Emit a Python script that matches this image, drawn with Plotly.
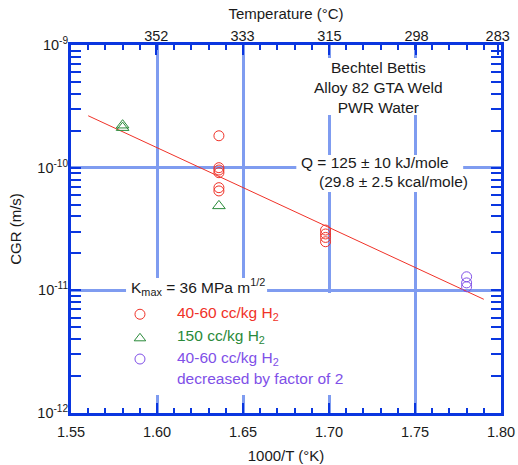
import numpy as np
import plotly.graph_objects as go

# ---------------- data ----------------
red_x = [1.636, 1.636, 1.636, 1.636, 1.636, 1.636, 1.698, 1.698, 1.698, 1.698]
red_y = [1.82e-10, 1.0e-10, 0.957e-10, 0.91e-10, 0.687e-10, 0.646e-10,
         3.1e-11, 2.88e-11, 2.7e-11, 2.49e-11]
green_x = [1.580, 1.580, 1.636]
green_y = [2.22e-10, 2.12e-10, 4.88e-11]
purple_x = [1.780, 1.780, 1.780]
purple_y = [1.29e-11, 1.15e-11, 1.07e-11]
fit_x = [1.560, 1.790]
fit_y = [2.65e-10, 8.45e-12]

x_ticks = [1.55, 1.60, 1.65, 1.70, 1.75, 1.80]
y_ticks = [1e-12, 1e-11, 1e-10, 1e-9]
y_ticklabels = ["10<sup>-12</sup>", "10<sup>-11</sup>", "10<sup>-10</sup>", "10<sup>-9</sup>"]
temps_c = [352, 333, 315, 298, 283]
temp_ticks = [1000.0 / (t + 273.15) for t in temps_c]

legend_labels = ["40-60 cc/kg H<sub>2</sub>", "150 cc/kg H<sub>2</sub>",
                 "40-60 cc/kg H<sub>2</sub>", "decreased by factor of 2"]

# ---------------- style ----------------
RED = "#f03228"
GREEN = "#2a8a3a"
PURPLE = "#8050e8"
AXIS = "#0a36e0"
GRID = "#7f9cf0"
FONT = "Liberation Sans, Arial, Helvetica, sans-serif"
TXT = "#1a1a1a"
AFS = 15.5  # annotation font size

fig = go.Figure()

fig.add_trace(go.Scatter(x=fit_x, y=fit_y, mode="lines",
                         line=dict(color=RED, width=1), showlegend=False))
fig.add_trace(go.Scatter(x=red_x, y=red_y, mode="markers",
                         marker=dict(symbol="circle-open", size=10, color=RED, line=dict(width=1)),
                         showlegend=False))
fig.add_trace(go.Scatter(x=green_x, y=green_y, mode="markers",
                         marker=dict(symbol="triangle-up-open", size=11, color=GREEN, line=dict(width=1)),
                         showlegend=False))
fig.add_trace(go.Scatter(x=purple_x, y=purple_y, mode="markers",
                         marker=dict(symbol="circle-open", size=10, color=PURPLE, line=dict(width=1)),
                         showlegend=False))

# legend key markers (placed in data space)
key_x = 1.5901
key_y = [10 ** -11.195, 10 ** -11.391, 10 ** -11.560]
key_sym = ["circle-open", "triangle-up-open", "circle-open"]
key_col = [RED, GREEN, PURPLE]
for yy, s, c in zip(key_y, key_sym, key_col):
    fig.add_trace(go.Scatter(x=[key_x], y=[yy], mode="markers",
                             marker=dict(symbol=s, size=10, color=c, line=dict(width=1)),
                             showlegend=False))

# invisible trace to anchor top axis
fig.add_trace(go.Scatter(x=[1.6], y=[1e-11], xaxis="x2", yaxis="y", mode="markers",
                         marker=dict(opacity=0), showlegend=False, hoverinfo="skip"))

# white boxes hiding grid lines behind text (drawn above grid; no data underneath)
def pb(py):
    return (413 - py) / 368.0

boxes = [
    (1.690, 1.770, 58, 115),
    (1.681, 1.778, 155, 192),
    (1.582, 1.664, 278, 297),
    (1.596, 1.730, 293, 395),
]
for x0, x1, py0, py1 in boxes:
    fig.add_shape(type="rect", xref="x", yref="paper", x0=x0, x1=x1,
                  y0=pb(py1), y1=pb(py0), fillcolor="white", line=dict(width=0),
                  layer="above")

ann = []
ann.append(dict(x=1.7285, y=-9.346, text="Bechtel Bettis<br>Alloy 82 GTA Weld<br>PWR Water",
                xanchor="center", yanchor="middle", font=dict(size=AFS, color=TXT)))
ann.append(dict(x=1.6826, y=-9.954, text="Q = 125 ± 10 kJ/mole",
                xanchor="left", yanchor="middle", font=dict(size=AFS, color=TXT)))
ann.append(dict(x=1.693, y=-10.109, text="(29.8 ± 2.5 kcal/mole)",
                xanchor="left", yanchor="middle", font=dict(size=AFS, color=TXT)))
ann.append(dict(x=1.5837, y=-10.973, text="K<sub>max</sub> = 36 MPa m<sup>1/2</sup>",
                xanchor="left", yanchor="middle", font=dict(size=AFS, color=TXT)))
leg_y = [-11.185, -11.380, -11.552, -11.715]
leg_c = [RED, GREEN, PURPLE, PURPLE]
for t, yy, c in zip(legend_labels, leg_y, leg_c):
    ann.append(dict(x=1.6105, y=yy, text=t, xanchor="left", yanchor="middle",
                    font=dict(size=AFS, color=c)))
for a in ann:
    a.update(xref="x", yref="y", showarrow=False)

fig.update_layout(
    width=518, height=465,
    margin=dict(l=71, r=17, t=45, b=52),
    paper_bgcolor="white", plot_bgcolor="white",
    font=dict(family=FONT, size=14, color=TXT),
    annotations=ann,
    xaxis=dict(
        range=[1.55, 1.80], tickmode="array", tickvals=x_ticks,
        ticktext=[f"{v:.2f}" for v in x_ticks], automargin=False,
        showgrid=True, gridcolor=GRID, gridwidth=3,
        showline=True, linecolor=AXIS, linewidth=3, mirror=True,
        ticks="inside", ticklen=10, tickwidth=2, tickcolor=AXIS,
        minor=dict(dtick=0.01, tick0=1.55, ticks="inside", ticklen=5, tickwidth=2,
                   tickcolor=AXIS, showgrid=False),
        zeroline=False, ticklabelstandoff=4,
        title=dict(text="1000/T (°K)", font=dict(size=15), standoff=12),
        tickfont=dict(size=14.5),
    ),
    xaxis2=dict(
        overlaying="x", side="top", range=[1.55, 1.80], automargin=False,
        tickmode="array", tickvals=temp_ticks, ticktext=[str(t) for t in temps_c],
        showgrid=False, showline=False, zeroline=False,
        ticks="inside", ticklen=10, tickwidth=2, tickcolor=AXIS,
        minor=dict(dtick=0.01, tick0=1.55, ticks="inside", ticklen=5, tickwidth=2,
                   tickcolor=AXIS, showgrid=False),
        title=dict(text="Temperature (°C)", font=dict(size=15), standoff=4),
        tickfont=dict(size=14.5),
    ),
    yaxis=dict(
        type="log", range=[-12, -9], tickmode="array", tickvals=y_ticks,
        ticktext=y_ticklabels, automargin=False,
        showgrid=True, gridcolor=GRID, gridwidth=3,
        showline=True, linecolor=AXIS, linewidth=3, mirror="allticks",
        ticks="inside", ticklen=10, tickwidth=2, tickcolor=AXIS,
        minor=dict(dtick="D1", ticks="inside", ticklen=6, tickwidth=2,
                   tickcolor=AXIS, showgrid=False),
        zeroline=False, ticklabelstandoff=-3,
        title=dict(text="CGR (m/s)", font=dict(size=15), standoff=13),
        tickfont=dict(size=14.5),
    ),
)

fig.write_html("out.html", post_script="document.body.style.margin='0';",
               config={"displayModeBar": False})
